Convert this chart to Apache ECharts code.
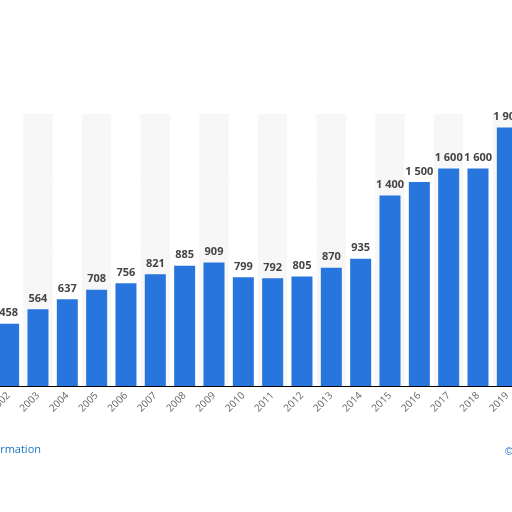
<!DOCTYPE html><html><head><meta charset="utf-8"><script src="https://cdn.jsdelivr.net/npm/echarts@6/dist/echarts.min.js"></script></head><body style="margin:0;overflow:hidden"><div id="c" style="width:535px;height:512px;margin-left:-13px"></div><script>
const categories=['2002','2003','2004','2005','2006','2007','2008','2009','2010','2011','2012','2013','2014','2015','2016','2017','2018','2019'];
const values=[458,564,637,708,756,821,885,909,799,792,805,870,935,1400,1500,1600,1600,1900];
const c=echarts.init(document.getElementById('c'));
c.setOption({animation:false,
grid:{left:0,right:0,top:114,bottom:126,containLabel:false},
xAxis:{type:'category',data:categories,axisLine:{lineStyle:{color:'#000'}},axisTick:{show:false},
 splitArea:{show:true,areaStyle:{color:['#ffffff','#f7f7f7']}},
 axisLabel:{rotate:45,color:'#666',fontSize:10,fontFamily:'Open Sans',margin:8}},
yAxis:{type:'value',min:0,max:2000,interval:500,axisLabel:{show:false},axisLine:{show:false},
 splitLine:{lineStyle:{color:'#bbb',type:'dotted'}}},
series:[{type:'bar',data:values,barWidth:21,itemStyle:{color:'#2876dd'},
 label:{show:true,position:'top',color:'#444',fontWeight:'bold',fontSize:11,fontFamily:'Open Sans',
 formatter:p=>p.value>=1000?Math.floor(p.value/1000)+' '+String(p.value%1000).padStart(3,'0'):p.value}}],
graphic:[{type:'text',left:-62,top:444,style:{text:'Additional Information',fill:'#1a73c8',fontSize:11,fontFamily:'Open Sans'}},
{type:'text',left:518,top:446,style:{text:'©',fill:'#1a73c8',fontSize:11}}]
});
</script></body></html>
